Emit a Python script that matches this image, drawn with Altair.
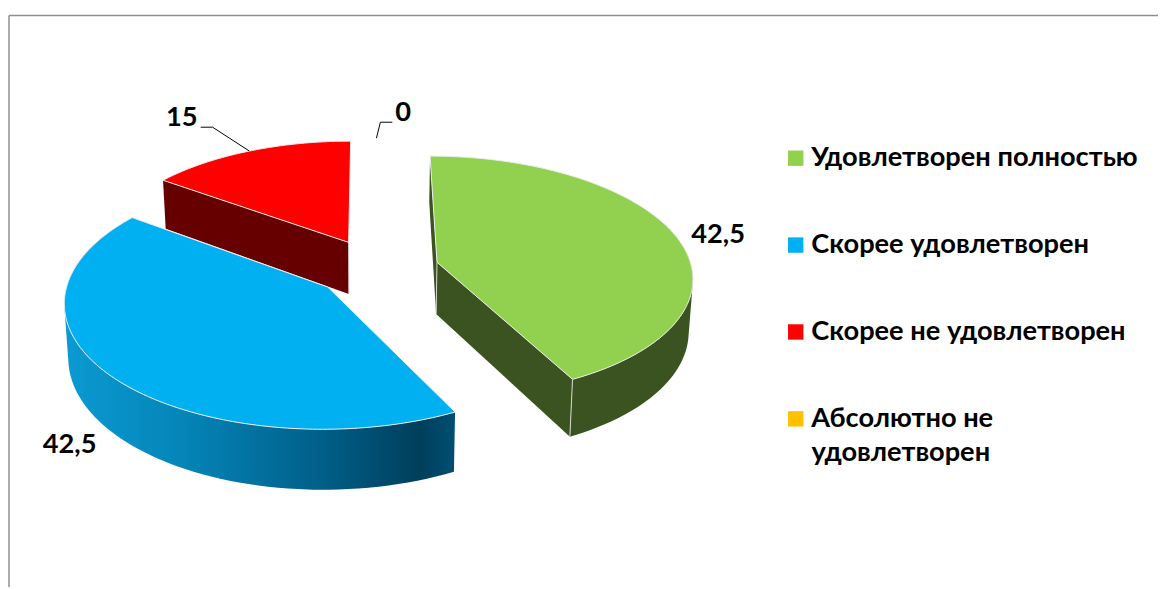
import math
import altair as alt

categories = ["Удовлетворен полностью", "Скорее удовлетворен", "Скорее не удовлетворен", "Абсолютно не удовлетворен"]
values = [42.5, 42.5, 15, 0]
colors = ["#92D050", "#00B0F0", "#FF0000", "#FFC000"]
wall_colors = ["#3B5320", "#00587A", "#660000", "#806000"]
label_text = ["42,5", "42,5", "15", "0"]

W, H = 1158, 581
FONT = "Lato"
FS = 27.4
VX, P, SHRINK = 371, 0.113, 0.987

# exploded slices: apex on the page, radii, thickness
geom = {
    0: dict(ax=440, ay=262, A=255, Q=119, d=52),
    1: dict(ax=330, ay=287, A=263, Q=127, d=54),
    2: dict(ax=351, ay=242, A=248, Q=113.5, d=52),
}
label_pos = [(723, 235), (70, 446), (183, 117), (406, 112)]


def rim(i, deg):
    g = geom[i]
    t = math.radians(deg)
    X, Y = math.sin(t), math.cos(t)
    w = 1 + P * Y
    return (VX + (g["ax"] - VX + g["A"] * X) / w, g["ay"] - g["Q"] * Y / w, w)


def top(i, deg):
    x, y, _ = rim(i, deg)
    return [x, y]


def bottom(i, deg):
    x, y, w = rim(i, deg)
    return [VX + (x - VX) * SHRINK, y + geom[i]["d"] / w]


def apex_top(i):
    return [geom[i]["ax"], geom[i]["ay"]]


def apex_bottom(i):
    g = geom[i]
    return [VX + (g["ax"] - VX) * SHRINK, g["ay"] + g["d"]]


def arange(a, b, step=1.0):
    n = max(2, int(abs(b - a) / step) + 1)
    return [a + (b - a) * k / (n - 1) for k in range(n)]


def poly(pts, **props):
    pts = list(pts) + [pts[0]]
    return {"type": "Feature", "geometry": {"type": "Polygon", "coordinates": [pts]}, "properties": {}, **props}


def oriented(q):
    area = sum(q[k][0] * q[(k + 1) % 4][1] - q[(k + 1) % 4][0] * q[k][1] for k in range(4))
    return q if area > 0 else q[::-1]


def rim_strip(i, a, b):
    """Outer wall of a slice as overlapping quads, so that its outline follows the silhouette."""
    arc = arange(a, b)
    quads = []
    for k in range(len(arc) - 2):
        q = oriented([top(i, arc[k]), top(i, arc[k + 2]), bottom(i, arc[k + 2]), bottom(i, arc[k])])
        quads.append([q + [q[0]]])
    return {"type": "Feature", "geometry": {"type": "MultiPolygon", "coordinates": quads}, "properties": {}}


def seg(pts):
    return {"type": "Feature", "geometry": {"type": "LineString", "coordinates": pts}, "properties": {}}


total = sum(values)
ang = []
c = 0
for v in values:
    ang.append((c, c + v / total * 360))
    c += v / total * 360

tops, walls, edges = [], [], []
for i in geom:
    a0, a1 = ang[i]
    arc = arange(a0, a1)
    tops.append(poly([apex_top(i)] + [top(i, a) for a in arc], cat=categories[i]))

# green: both cut faces and outer rim
a0, a1 = ang[0]
walls.append(poly([top(0, a0), apex_top(0), apex_bottom(0), bottom(0, a0)]))
walls.append(poly([apex_top(0), top(0, a1), bottom(0, a1), apex_bottom(0)]))
walls.append(rim_strip(0, 70, a1))
# red: cut face towards the viewer
a0, a1 = ang[2]
red_wall = poly([top(2, a0), apex_top(2), apex_bottom(2), bottom(2, a0)])
edges.append(seg([apex_top(0), apex_bottom(0)]))
edges.append(seg([top(0, ang[0][1]), bottom(0, ang[0][1])]))
edges.append(seg([apex_top(2), apex_bottom(2)]))
# blue: outer rim with a gradient
blue_rim = rim_strip(1, ang[1][0], 295)

proj = dict(type="identity", scale=1, translate=[-8, -8])
xs = alt.Scale(domain=[8, 8 + W], range=[0, W])
ys = alt.Scale(domain=[8, 8 + H], range=[0, H])

wall_layer = alt.Chart(alt.Data(values=[red_wall])).mark_geoshape(fill=wall_colors[2], strokeWidth=0).project(**proj)
green_walls = alt.Chart(alt.Data(values=walls)).mark_geoshape(fill=wall_colors[0], strokeWidth=0).project(**proj)
blue_wall = alt.Chart(alt.Data(values=[blue_rim])).mark_geoshape(
    fill=alt.Gradient(
        gradient="linear", x1=1, x2=0, y1=0, y2=0,
        stops=[
            alt.GradientStop(offset=0, color="#004E72"),
            alt.GradientStop(offset=0.09, color="#003F5C"),
            alt.GradientStop(offset=0.35, color="#00608A"),
            alt.GradientStop(offset=0.7, color="#0585B8"),
            alt.GradientStop(offset=1, color="#0A9AD2"),
        ],
    ),
    strokeWidth=0,
).project(**proj)

top_layer = alt.Chart(alt.Data(values=tops)).mark_geoshape(stroke="#EDEDED", strokeWidth=1).encode(
    color=alt.Color(
        "cat:N",
        scale=alt.Scale(domain=categories, range=colors),
        legend=alt.Legend(
            title=None, orient="none", legendX=779.5, legendY=135.5,
            symbolType="square", symbolSize=240, symbolStrokeWidth=0, symbolOpacity=1,
            labelFont=FONT, labelFontWeight="bold", labelFontSize=FS, labelColor="#000000",
            labelLimit=400, labelOffset=2, rowPadding=58.5,
            labelExpr="datum.label == 'Абсолютно не удовлетворен' ? 'Абсолютно не' : datum.label",
        ),
    )
).project(**proj)

edge_layer = alt.Chart(alt.Data(values=edges)).mark_geoshape(filled=False, stroke="#D8D8D8", strokeWidth=1).project(**proj)

frame_rows = [
    {"s": "top", "x": 9, "y": 13.5, "o": 0}, {"s": "top", "x": 1166, "y": 13.5, "o": 1},
    {"s": "left", "x": 9, "y": 13.5, "o": 0}, {"s": "left", "x": 9, "y": 589, "o": 1},
]
frame = alt.Chart(alt.Data(values=frame_rows)).mark_line(color="#8F8F8F", strokeWidth=1.5).encode(
    x=alt.X("x:Q", scale=xs, axis=None), y=alt.Y("y:Q", scale=ys, axis=None), detail="s:N", order="o:Q")

leader_rows = [
    {"s": "a", "x": 202, "y": 126, "o": 0}, {"s": "a", "x": 214, "y": 126, "o": 1}, {"s": "a", "x": 251, "y": 150, "o": 2},
    {"s": "b", "x": 395, "y": 121, "o": 0}, {"s": "b", "x": 383, "y": 121, "o": 1}, {"s": "b", "x": 379, "y": 137, "o": 2},
]
leaders = alt.Chart(alt.Data(values=leader_rows)).mark_line(color="#000000", strokeWidth=1).encode(
    x=alt.X("x:Q", scale=xs, axis=None), y=alt.Y("y:Q", scale=ys, axis=None), detail="s:N", order="o:Q")

label_rows = [{"t": t, "x": p[0], "y": p[1]} for t, p in zip(label_text, label_pos)]
labels = alt.Chart(alt.Data(values=label_rows)).mark_text(
    font=FONT, fontWeight="bold", fontSize=FS, color="#000000", align="center", baseline="middle"
).encode(x=alt.X("x:Q", scale=xs, axis=None), y=alt.Y("y:Q", scale=ys, axis=None), text="t:N")

wrap = alt.Chart(alt.Data(values=[{"t": "удовлетворен", "x": 817, "y": 454}])).mark_text(
    font=FONT, fontWeight="bold", fontSize=FS, color="#000000", align="left", baseline="middle"
).encode(x=alt.X("x:Q", scale=xs, axis=None), y=alt.Y("y:Q", scale=ys, axis=None), text="t:N")

chart = alt.layer(frame, wall_layer, blue_wall, green_walls, top_layer, edge_layer, leaders, labels, wrap).properties(
    width=W, height=H, padding=0, autosize=alt.AutoSizeParams(type="none"), background="#FFFFFF"
).configure_view(stroke=None)

chart.save("out.html", embed_options={"renderer": "svg", "actions": False})
